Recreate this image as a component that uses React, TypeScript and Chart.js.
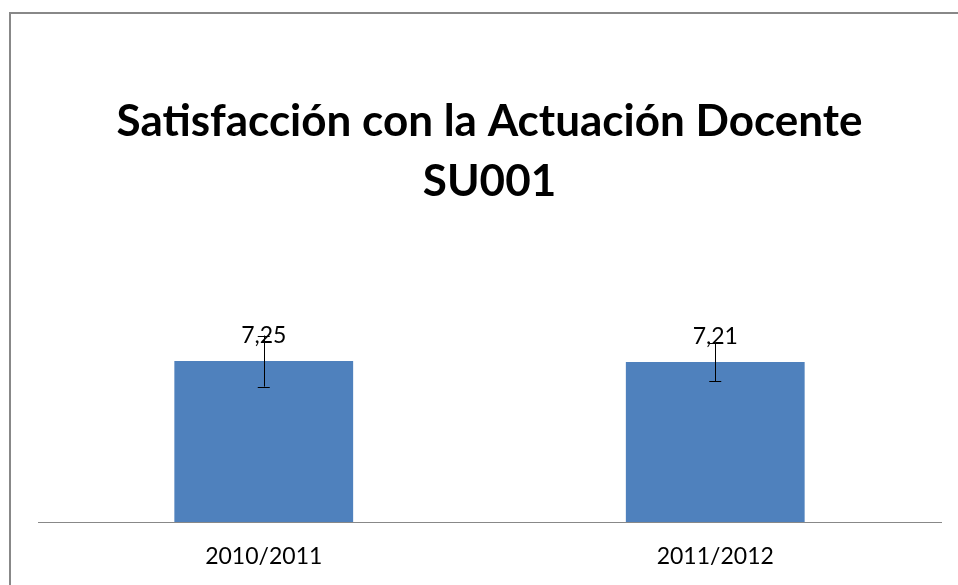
import React, { useEffect, useRef } from "react";
import { Chart, registerables } from "chart.js";

Chart.register(...registerables);

const categories = ["2010/2011", "2011/2012"];
const values = [7.25, 7.21];
const errors = [1.15, 0.86];
const titleLines = ["Satisfacción con la Actuación Docente", "SU001"];

const FONT = "Lato, 'Open Sans', sans-serif";

const frameBorder = {
  id: "frameBorder",
  beforeDraw(chart: any) {
    const ctx = chart.ctx;
    ctx.save();
    ctx.fillStyle = "#ffffff";
    ctx.fillRect(0, 0, chart.width, chart.height);
    ctx.strokeStyle = "#888888";
    ctx.lineWidth = 2;
    ctx.strokeRect(10, 13, 1200, 1200);
    ctx.restore();
  },
};

const labelsAndErrors = {
  id: "labelsAndErrors",
  afterDatasetsDraw(chart: any) {
    const ctx = chart.ctx;
    const meta = chart.getDatasetMeta(0);
    const y = chart.scales.y;
    ctx.save();
    meta.data.forEach((bar: any, i: number) => {
      const v = values[i];
      ctx.fillStyle = "#000000";
      ctx.font = `23px ${FONT}`;
      ctx.textAlign = "center";
      ctx.textBaseline = "alphabetic";
      ctx.fillText(v.toFixed(2).replace(".", ","), bar.x, bar.y - 18);
      const top = y.getPixelForValue(v + errors[i]);
      const bottom = y.getPixelForValue(v - errors[i]);
      ctx.strokeStyle = "#000000";
      ctx.lineWidth = 1;
      ctx.beginPath();
      ctx.moveTo(Math.round(bar.x) + 0.5, top);
      ctx.lineTo(Math.round(bar.x) + 0.5, bottom);
      ctx.moveTo(bar.x - 6, Math.round(top) + 0.5);
      ctx.lineTo(bar.x + 6, Math.round(top) + 0.5);
      ctx.moveTo(bar.x - 6, Math.round(bottom) + 0.5);
      ctx.lineTo(bar.x + 6, Math.round(bottom) + 0.5);
      ctx.stroke();
    });
    ctx.restore();
  },
};

export default function App() {
  const ref = useRef<HTMLCanvasElement | null>(null);
  useEffect(() => {
    if (!ref.current) return;
    const chart = new Chart(ref.current, {
      type: "bar",
      data: {
        labels: categories,
        datasets: [
          {
            data: values,
            backgroundColor: "#4F81BD",
            borderWidth: 0,
            barPercentage: 0.4,
            categoryPercentage: 0.99,
          },
        ],
      },
      options: {
        animation: false,
        responsive: false,
        layout: { padding: { left: 38, right: 17, top: 0, bottom: 0 } },
        plugins: {
          legend: { display: false },
          tooltip: { enabled: false },
          title: {
            display: true,
            text: titleLines,
            color: "#000000",
            font: { family: FONT, size: 44, weight: "bold", lineHeight: 60 / 44 },
            padding: { top: 92, bottom: 88 },
          },
        },
        scales: {
          x: {
            grid: { display: false, drawTicks: false },
            border: { display: true, color: "#888888", width: 1 },
            ticks: { color: "#000000", font: { family: FONT, size: 23 }, padding: 21 },
            afterFit: (s: any) => {
              s.height = 63;
            },
          },
          y: {
            display: false,
            min: 0,
            max: 10,
          },
        },
      },
      plugins: [frameBorder, labelsAndErrors],
    });
    return () => chart.destroy();
  }, []);
  return (
    <div style={{ position: "absolute", left: 0, top: 0, width: 958, height: 585 }}>
      <canvas ref={ref} width={958} height={585} />
    </div>
  );
}
